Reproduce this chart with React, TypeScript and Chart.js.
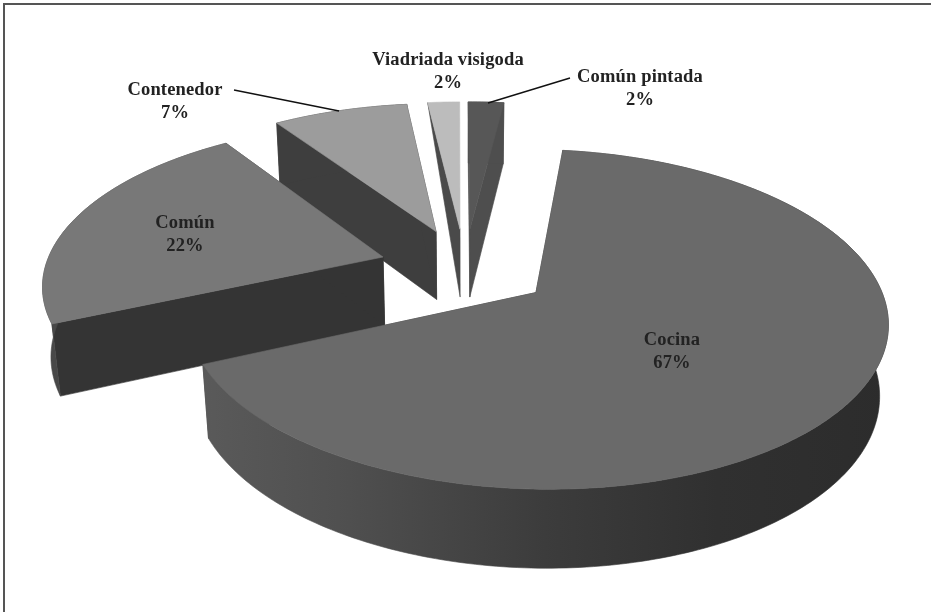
import React, { useEffect, useRef } from "react";
import { Chart, registerables } from "chart.js";

Chart.register(...registerables);

const categories = ["Cocina", "Común", "Contenedor", "Viadriada visigoda", "Común pintada"];
const shares = [66.4, 22.2, 7.6, 1.8, 2.0];
const percentLabels = ["67%", "22%", "7%", "2%", "2%"];
const topColors = ["#6a6a6a", "#787878", "#9c9c9c", "#bcbcbc", "#575757"];
const sideColors = ["#3a3a3a", "#343434", "#3e3e3e", "#4a4a4a", "#4e4e4e"];
const wallColors = ["#3a3a3a", "#484848", "#3e3e3e", "#4a4a4a", "#4e4e4e"];

// label anchor (centre of the first line), per category
const labelX = [672, 185, 175, 448, 640];
const labelY = [340, 223, 90, 60, 77];
// leader lines: [category index, x1, y1, x2, y2]
const leaders: number[][] = [
  [2, 234, 90, 339, 111],
  [4, 570, 78, 488, 103],
];

// perspective camera that maps the pie's unit disc to the page
const CAM = { xc: 465, yc: 268, f: 338, g: 158, k: 0.154, h: 71, m: 0.02, explode: 0.255 };
const NO_OUTER_WALL = 3; // the thin Viadriada slice shows only its cut face in the picture

const project = (X: number, Z: number, Y: number) => {
  const w = 1 + CAM.k * Z + CAM.m * Y;
  return { x: CAM.xc + (CAM.f * X) / w, y: CAM.yc + (-CAM.g * Z + CAM.h * Y) / w };
};

const pie3d = {
  id: "pie3d",
  beforeDatasetDraw(chart: any) {
    const ctx: CanvasRenderingContext2D = chart.ctx;
    const arcs = chart.getDatasetMeta(0).data;
    const order = [4, 3, 2, 1, 0];
    for (const i of order) {
      const arc = arcs[i];
      const a0 = arc.startAngle + Math.PI / 2;
      const a1 = arc.endAngle + Math.PI / 2;
      const mid = (a0 + a1) / 2;
      const ox = Math.sin(mid) * CAM.explode;
      const oz = Math.cos(mid) * CAM.explode;
      const n = Math.max(8, Math.ceil(((a1 - a0) * 180) / Math.PI));
      const rim = (Y: number) => {
        const pts = [];
        for (let s = 0; s <= n; s++) {
          const a = a0 + ((a1 - a0) * s) / n;
          pts.push(project(ox + Math.sin(a), oz + Math.cos(a), Y));
        }
        return pts;
      };
      const top = rim(0);
      const bottom = rim(1);
      const apexT = project(ox, oz, 0);
      const apexB = project(ox, oz, 1);
      const poly = (pts: { x: number; y: number }[], fill: any) => {
        ctx.beginPath();
        pts.forEach((p, j) => (j ? ctx.lineTo(p.x, p.y) : ctx.moveTo(p.x, p.y)));
        ctx.closePath();
        ctx.fillStyle = fill;
        ctx.fill();
        ctx.strokeStyle = fill;
        ctx.lineWidth = 0.6;
        ctx.stroke();
      };
      const side = sideColors[i];
      if (i === NO_OUTER_WALL) {
        poly([top[0], apexB, apexT], side);
      } else {
        poly([apexT, top[0], bottom[0], apexB], side);
        poly([apexT, top[n], bottom[n], apexB], side);
        let wall: any = wallColors[i];
        if (i === 0) {
          wall = ctx.createLinearGradient(200, 0, 890, 0);
          wall.addColorStop(0, "#5a5a5a");
          wall.addColorStop(0.2, "#505050");
          wall.addColorStop(0.5, "#3c3c3c");
          wall.addColorStop(0.75, "#303030");
          wall.addColorStop(1, "#2c2c2c");
        }
        poly([...top, ...bottom.slice().reverse()], wall);
      }
      poly([apexT, ...top], arc.options.backgroundColor);
    }
    // labels and leaders
    ctx.strokeStyle = "#111111";
    ctx.lineWidth = 1.4;
    for (const [, x1, y1, x2, y2] of leaders) {
      ctx.beginPath();
      ctx.moveTo(x1, y1);
      ctx.lineTo(x2, y2);
      ctx.stroke();
    }
    ctx.font = 'bold 18.5px "Liberation Serif"';
    (ctx as any).letterSpacing = "0.15px";
    ctx.textAlign = "center";
    ctx.textBaseline = "middle";
    ctx.fillStyle = "#222222";
    categories.forEach((c, i) => {
      ctx.fillText(c, labelX[i], labelY[i]);
      ctx.fillText(percentLabels[i], labelX[i], labelY[i] + 23);
    });
    return false;
  },
};

export default function App() {
  const ref = useRef<HTMLCanvasElement>(null);
  useEffect(() => {
    document.body.style.margin = "0";
    const chart = new Chart(ref.current!, {
      type: "pie",
      data: {
        labels: categories,
        datasets: [{ data: shares, backgroundColor: topColors, borderWidth: 0 }],
      },
      options: {
        animation: false,
        responsive: false,
        rotation: 7,
        plugins: { legend: { display: false }, tooltip: { enabled: false } },
      },
      plugins: [pie3d],
    } as any);
    return () => chart.destroy();
  }, []);
  return (
    <div style={{ position: "relative", width: 931, height: 612, background: "#fff", overflow: "hidden" }}>
      <div
        style={{
          position: "absolute",
          left: 3,
          top: 3,
          width: 935,
          height: 620,
          border: "2px solid #555",
          boxSizing: "border-box",
        }}
      />
      <canvas ref={ref} width={931} height={612} style={{ position: "absolute", left: 0, top: 0, display: "block" }} />
    </div>
  );
}
